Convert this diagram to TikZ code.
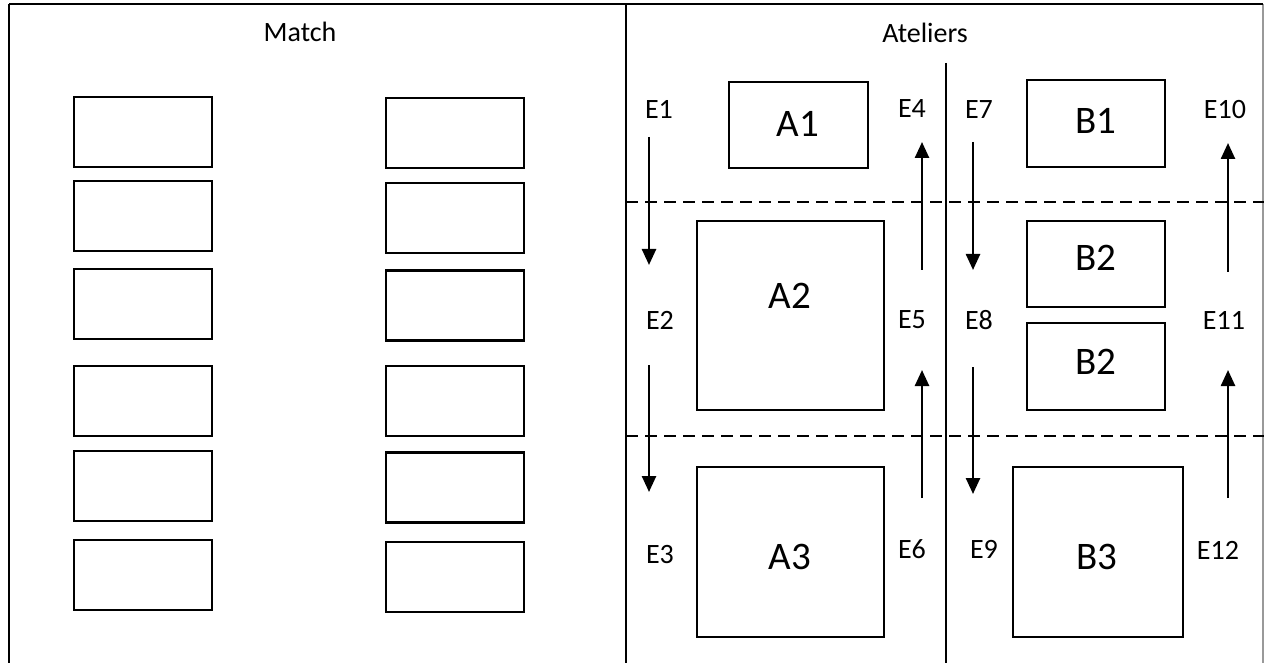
\documentclass[tikz,border=0pt]{standalone}
\usepackage{fontspec}
\setmainfont{Carlito}
\usetikzlibrary{arrows.meta}

\tikzset{
  frame/.style={line width=2pt, black},
  frameedge/.style={line width=1.6pt, black!40},
  slot/.style={draw, line width=2.4pt, inner sep=0pt, outer sep=0pt,
               minimum width=138pt, minimum height=70pt},
  shop/.style={draw, line width=2.2pt, inner sep=0pt, outer sep=0pt},
  title/.style={font=\fontsize{28}{32}\selectfont, anchor=base, inner sep=0pt},
  elabel/.style={font=\fontsize{28}{32}\selectfont, inner sep=0pt},
  shoplabel/.style={font=\fontsize{39}{44}\selectfont, inner sep=0pt},
  lane/.style={line width=2.5pt, -{Triangle[length=16pt,width=14pt]}},
  zone/.style={line width=2.4pt, dash pattern=on 12pt off 7pt},
}

\begin{document}
\begin{tikzpicture}[x=1pt, y=-1pt]
\useasboundingbox (0,0) rectangle (1264,663);

% table frame
\coordinate (tl) at (9,4);
\coordinate (tr) at (1263,4);
\coordinate (bl) at (9,663);
\coordinate (tm) at (626,4);
\coordinate (bm) at (626,663);
\coordinate (br) at (1263,663);
\draw[frameedge] (tr) -- (br);
\draw[frame] (tl) -- (tr);
\draw[frame] (tl) -- (bl);
\draw[frame] (tm) -- (bm);

% headings
\node[title] (match) at (300,42) {Match};
\node[title] (ateliers) at (925,43) {Ateliers};

% Match: two columns of empty slots
\node[slot] (l1) at (143,132) {};
\node[slot] (l2) at (143,216) {};
\node[slot] (l3) at (143,304) {};
\node[slot] (l4) at (143,401) {};
\node[slot] (l5) at (143,486) {};
\node[slot] (l6) at (143,575) {};
\node[slot] (r1) at (455,133) {};
\node[slot] (r2) at (455,218) {};
\node[slot] (r3) at (455,305.5) {};
\node[slot] (r4) at (455,401) {};
\node[slot] (r5) at (455,487.5) {};
\node[slot] (r6) at (455,577) {};

% Ateliers: wall between the two halls
\coordinate (wtop) at (946,63);
\coordinate (wbot) at (946,663);
\draw[line width=2pt] (wtop) -- (wbot);

% zone boundaries
\coordinate (z1a) at (626,202);
\coordinate (z1b) at (1264,202);
\coordinate (z2a) at (626,436);
\coordinate (z2b) at (1264,436);
\draw[zone] (z1a) -- (z1b);
\draw[zone] (z2a) -- (z2b);

% workshops
\node[shop, minimum width=139pt, minimum height=86pt] (A1) at (798.5,125) {};
\node[shop, minimum width=187pt, minimum height=189pt] (A2) at (790.5,315.5) {};
\node[shop, minimum width=187pt, minimum height=170pt] (A3) at (790.5,552) {};
\node[shop, minimum width=138pt, minimum height=87pt] (B1) at (1096,123.5) {};
\node[shop, minimum width=138pt, minimum height=86pt] (B2a) at (1096,264) {};
\node[shop, minimum width=138pt, minimum height=87pt] (B2b) at (1096,366.5) {};
\node[shop, minimum width=170pt, minimum height=170pt] (B3) at (1098,552) {};

\node[shoplabel] (tA1) at (798,124) {A1};
\node[shoplabel] (tA2) at (790,296) {A2};
\node[shoplabel] (tA3) at (790,557) {A3};
\node[shoplabel] (tB1) at (1096,121) {B1};
\node[shoplabel] (tB2a) at (1096,258) {B2};
\node[shoplabel] (tB2b) at (1096,362) {B2};
\node[shoplabel] (tB3) at (1097,557) {B3};

% entry labels
\node[elabel] (E1) at (659,109) {E1};
\node[elabel] (E2) at (660,320) {E2};
\node[elabel] (E3) at (660,555) {E3};
\node[elabel] (E4) at (912,109) {E4};
\node[elabel] (E5) at (912,320) {E5};
\node[elabel] (E6) at (912,549) {E6};
\node[elabel] (E7) at (979,110) {E7};
\node[elabel] (E8) at (979,320) {E8};
\node[elabel] (E9) at (984,549) {E9};
\node[elabel] (E10) at (1225,110) {E10};
\node[elabel] (E11) at (1224,320) {E11};
\node[elabel] (E12) at (1218,550) {E12};

% flow arrows
\coordinate (d1s) at (649,137);  \coordinate (d1e) at (649,265);
\coordinate (d2s) at (649,365);  \coordinate (d2e) at (649,492);
\coordinate (u1s) at (922,270);  \coordinate (u1e) at (922,142);
\coordinate (u2s) at (922,498);  \coordinate (u2e) at (922,370);
\coordinate (d3s) at (973,142);  \coordinate (d3e) at (973,270);
\coordinate (d4s) at (973,367);  \coordinate (d4e) at (973,494);
\coordinate (u3s) at (1228,272); \coordinate (u3e) at (1228,143);
\coordinate (u4s) at (1228,498); \coordinate (u4e) at (1228,370);
\draw[lane] (d1s) -- (d1e);
\draw[lane] (d2s) -- (d2e);
\draw[lane] (u1s) -- (u1e);
\draw[lane] (u2s) -- (u2e);
\draw[lane] (d3s) -- (d3e);
\draw[lane] (d4s) -- (d4e);
\draw[lane] (u3s) -- (u3e);
\draw[lane] (u4s) -- (u4e);
\end{tikzpicture}
\end{document}
